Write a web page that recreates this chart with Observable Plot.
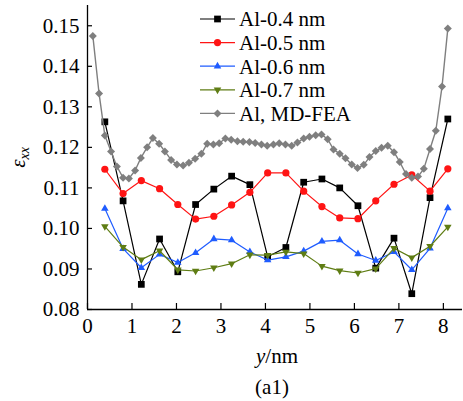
<!DOCTYPE html>
<html>
<head>
<meta charset="utf-8">
<script src="https://cdn.jsdelivr.net/npm/d3@7"></script>
<script src="https://cdn.jsdelivr.net/npm/@observablehq/plot@0.6"></script>
<style>
  html, body { margin: 0; padding: 0; background: #fff; }
  svg text { font-family: "Liberation Serif", "Times New Roman", serif; }
</style>
</head>
<body>
<div id="chart"></div>
<script>
// ---- data ----
const seriesNames = ["Al-0.4 nm", "Al-0.5 nm", "Al-0.6 nm", "Al-0.7 nm", "Al, MD-FEA"];
const xTicks = [0, 1, 2, 3, 4, 5, 6, 7, 8];
const yTicks = [0.08, 0.09, 0.10, 0.11, 0.12, 0.13, 0.14, 0.15];

const xs = [0.39, 0.80, 1.21, 1.62, 2.03, 2.43, 2.84, 3.24, 3.65, 4.05, 4.46, 4.86, 5.27, 5.67, 6.08, 6.48, 6.89, 7.29, 7.70, 8.10];
const al04 = [0.1263, 0.1068, 0.0862, 0.0974, 0.0893, 0.1059, 0.1097, 0.1129, 0.1108, 0.0930, 0.0953, 0.1114, 0.1122, 0.1100, 0.1056, 0.0902, 0.0976, 0.0839, 0.1076, 0.1270];
const al05 = [0.1146, 0.1086, 0.1118, 0.1098, 0.1059, 0.1023, 0.1030, 0.1058, 0.1089, 0.1137, 0.1137, 0.1092, 0.1054, 0.1026, 0.1024, 0.1068, 0.1109, 0.1132, 0.1092, 0.1147];
const al06 = [0.1049, 0.0950, 0.0903, 0.0936, 0.0916, 0.0940, 0.0974, 0.0971, 0.0942, 0.0922, 0.0930, 0.0944, 0.0968, 0.0971, 0.0937, 0.0921, 0.0942, 0.0898, 0.0951, 0.1050];
const al07 = [0.1005, 0.0954, 0.0923, 0.0945, 0.0898, 0.0895, 0.0903, 0.0913, 0.0935, 0.0934, 0.0942, 0.0938, 0.0907, 0.0896, 0.0890, 0.0901, 0.0951, 0.0928, 0.0956, 0.1004];

const xsFea = [0.12, 0.26, 0.39, 0.53, 0.66, 0.80, 0.93, 1.07, 1.20, 1.34, 1.47, 1.61, 1.74, 1.88, 2.01, 2.15, 2.28, 2.42, 2.56, 2.69,
               2.83, 2.96, 3.10, 3.23, 3.37, 3.50, 3.64, 3.77, 3.91, 4.04, 4.18, 4.31, 4.45, 4.59, 4.72, 4.86, 4.99, 5.13, 5.26, 5.40,
               5.53, 5.67, 5.80, 5.94, 6.07, 6.21, 6.34, 6.48, 6.61, 6.75, 6.89, 7.02, 7.16, 7.29, 7.43, 7.56, 7.70, 7.83, 7.97, 8.10];
const alFea = [0.1475, 0.1333, 0.1229, 0.1190, 0.1153, 0.1125, 0.1123, 0.1143, 0.1174, 0.1200, 0.1223, 0.1209, 0.1190, 0.1169, 0.1158, 0.1155, 0.1162, 0.1172, 0.1184, 0.1209,
               0.1207, 0.1210, 0.1222, 0.1219, 0.1215, 0.1214, 0.1213, 0.1211, 0.1207, 0.1204, 0.1207, 0.1210, 0.1207, 0.1204, 0.1212, 0.1222, 0.1226, 0.1230, 0.1232, 0.1220,
               0.1195, 0.1184, 0.1173, 0.1158, 0.1149, 0.1157, 0.1176, 0.1191, 0.1199, 0.1204, 0.1188, 0.1164, 0.1134, 0.1125, 0.1128, 0.1147, 0.1196, 0.1241, 0.1350, 0.1493];

// ---- styles ----
const FONT = "'Liberation Serif', 'Times New Roman', serif";
const styles = [
  {color: "#000000", symbol: "square", r: 3.8, rotate: 0, d3sym: d3.symbolSquare},
  {color: "#ff1414", symbol: "circle", r: 3.6, rotate: 0, d3sym: d3.symbolCircle},
  {color: "#1f5cff", symbol: "triangle", r: 2.8, rotate: 0, d3sym: d3.symbolTriangle},
  {color: "#5f7d14", symbol: "triangle", r: 2.8, rotate: 180, d3sym: d3.symbolTriangle},
  {color: "#7f7f7f", symbol: "diamond2", r: 3.6, rotate: 0, d3sym: d3.symbolDiamond2}
];

const series = [
  {name: seriesNames[0], data: xs.map((x, i) => ({x, y: al04[i]}))},
  {name: seriesNames[1], data: xs.map((x, i) => ({x, y: al05[i]}))},
  {name: seriesNames[2], data: xs.map((x, i) => ({x, y: al06[i]}))},
  {name: seriesNames[3], data: xs.map((x, i) => ({x, y: al07[i]}))},
  {name: seriesNames[4], data: xsFea.map((x, i) => ({x, y: alFea[i]}))}
];

const W = 463, H = 401, mL = 87, mR = 1, mT = 5, mB = 92;
const frameW = W - mL - mR, frameH = H - mT - mB;

const dataMarks = [];
series.forEach((s, k) => {
  const st = styles[k];
  dataMarks.push(Plot.line(s.data, {x: "x", y: "y", stroke: st.color, strokeWidth: k === 4 ? 1.4 : 1.2}));
  dataMarks.push(Plot.dot(s.data, {x: "x", y: "y", symbol: st.symbol, r: st.r, rotate: st.rotate, fill: st.color, stroke: "none"}));
});

const chart = Plot.plot({
  width: W, height: H,
  marginLeft: mL, marginRight: mR, marginTop: mT, marginBottom: mB,
  style: `font-family: ${FONT}; font-size: 21px; background: #fff; color: #000;`,
  x: {domain: [0, 8.43]},
  y: {domain: [0.08, 0.155]},
  marks: [
    Plot.axisX(xTicks, {tickSize: 0, tickPadding: 9, label: null, tickFormat: d => String(d)}),
    Plot.axisY(yTicks, {tickSize: 0, tickPadding: 8, label: null, tickFormat: d => d.toFixed(2)}),
    Plot.tickX(xTicks, {x: d => d, insetTop: frameH - 6, stroke: "#000", strokeWidth: 1.2}),
    Plot.tickY(yTicks, {y: d => d, insetRight: frameW - 5, stroke: "#000", strokeWidth: 1.2}),
    ...dataMarks,
    Plot.ruleX([0], {stroke: "#000", strokeWidth: 1.3}),
    Plot.ruleY([0.08], {stroke: "#000", strokeWidth: 1.3}),
    Plot.text(["y/nm"], {frameAnchor: "bottom", dy: 47, dx: 2, lineAnchor: "middle", fill: "#000"}),
    Plot.text(["(a1)"], {frameAnchor: "bottom", dy: 78, dx: -3, lineAnchor: "middle", fill: "#000"}),
    Plot.text(["ε"], {frameAnchor: "left", dx: -69, rotate: -90, lineAnchor: "middle", fill: "#000"})
  ]
});

document.getElementById("chart").appendChild(chart);

// ---- rich text for labels ----
const svg = d3.select(chart);
svg.selectAll("text").each(function() {
  const t = d3.select(this);
  const content = this.textContent;
  if (content === "y/nm") {
    t.text(null);
    t.append("tspan").attr("font-style", "italic").text("y");
    t.append("tspan").text("/nm");
  } else if (content === "ε") {
    t.text(null);
    t.attr("text-anchor", "middle");
    t.append("tspan").attr("font-style", "italic").text("ε");
    t.append("tspan").attr("font-style", "italic").attr("font-size", "14px").attr("dy", "0.3em").text("xx");
  }
});

// ---- legend ----
const lg = svg.append("g").attr("font-family", FONT).attr("font-size", 21).attr("text-anchor", "start");
const lx0 = 200, lx1 = 235, ly0 = 19, lstep = 23.6;
series.forEach((s, k) => {
  const st = styles[k];
  const yy = ly0 + k * lstep;
  lg.append("line").attr("x1", lx0).attr("x2", lx1).attr("y1", yy).attr("y2", yy)
    .attr("stroke", st.color).attr("stroke-width", 1.2);
  lg.append("path")
    .attr("d", d3.symbol(st.d3sym, st.r * st.r * Math.PI)())
    .attr("transform", `translate(${(lx0 + lx1) / 2},${yy}) rotate(${st.rotate})`)
    .attr("fill", st.color);
  lg.append("text").attr("x", 239).attr("y", yy).attr("dy", "0.35em").attr("text-anchor", "start")
    .attr("fill", "#000").text(s.name);
});
</script>
</body>
</html>
